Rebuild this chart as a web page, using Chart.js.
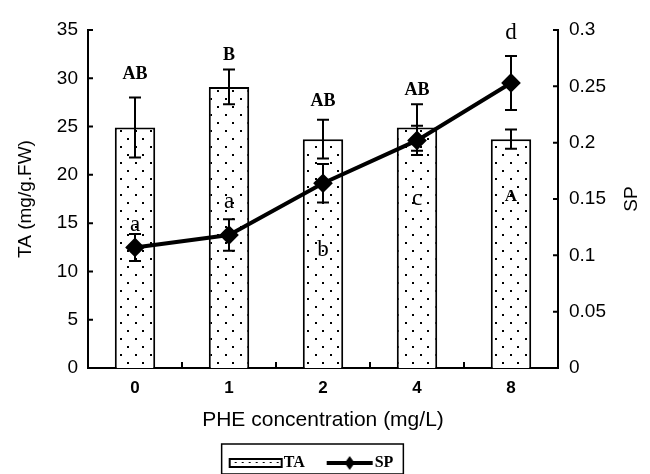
<!DOCTYPE html>
<html>
<head>
<meta charset="utf-8">
<script src="https://cdn.jsdelivr.net/npm/chart.js"></script>
<style>
html, body { margin: 0; padding: 0; background: #fff; }
</style>
</head>
<body>
<canvas id="chartTA" width="650" height="474"></canvas>
<script>
let categories = ['0', '1', '2', '4', '8']
let taValues = [24.9, 29.1, 23.7, 24.9, 23.7]
let taErrors = [3.1, 1.8, 2.0, 2.4, 1.0]
let spValues = [0.107, 0.118, 0.164, 0.202, 0.253]
let spErrors = [0.012, 0.014, 0.017, 0.013, 0.024]
let taTicks = ['0', '5', '10', '15', '20', '25', '30', '35']
let spTicks = ['0', '0.05', '0.1', '0.15', '0.2', '0.25', '0.3']

// significance letters (height given in TA units)
let upperLetters = ['AB', 'B', 'AB', 'AB', 'd']
let upperLetterY = [30.4, 32.4, 27.6, 28.8, 34.7]
let lowerLetters = ['a', 'a', 'b', 'c', 'A']
let lowerLetterY = [14.8, 17.2, 12.2, 17.55, 17.7]

let canvs = document.getElementById('chartTA')
let ctx = canvs.getContext('2d')

// dotted fill for the bars
function makeDots () {
    let c = document.createElement('canvas')
    c.width = 15; c.height = 16
    let g = c.getContext('2d')
    g.fillStyle = '#fff'
    g.fillRect(0, 0, 15, 16)
    g.fillStyle = '#000'
    g.fillRect(0, 2, 2, 2)
    g.fillRect(7, 10, 2, 2)
    return ctx.createPattern(c, 'repeat')
}
let dots = makeDots()

// legend swatches (drawn centred in the legend box)
function taSwatch () {
    let c = document.createElement('canvas')
    c.width = 80; c.height = 14
    let g = c.getContext('2d')
    g.fillStyle = '#fff'
    g.fillRect(24, 3, 52, 8)
    g.fillStyle = '#000'
    for (let i = 29; i < 75; i += 7) g.fillRect(i, 6, 2, 1)
    g.strokeStyle = '#000'; g.lineWidth = 2
    g.strokeRect(24, 3, 52, 8)
    return c
}
function spSwatch () {
    let c = document.createElement('canvas')
    c.width = 80; c.height = 18
    let g = c.getContext('2d')
    g.strokeStyle = '#000'; g.lineWidth = 4
    g.beginPath(); g.moveTo(30, 9); g.lineTo(76, 9); g.stroke()
    g.fillStyle = '#000'
    g.beginPath(); g.moveTo(53, 2); g.lineTo(58, 9); g.lineTo(53, 16); g.lineTo(48, 9); g.closePath(); g.fill()
    return c
}
let swatches = [taSwatch(), spSwatch()]

let extras = {
    id: 'extras',
    afterDatasetsDraw (chart) {
        let c = chart.ctx
        let x = chart.scales.x, y = chart.scales.y, y1 = chart.scales.y1
        c.save()
        c.strokeStyle = '#000'
        c.lineWidth = 2
        function errBar (px, top, bot) {
            c.beginPath()
            c.moveTo(px, top); c.lineTo(px, bot)
            c.moveTo(px - 6, top); c.lineTo(px + 6, top)
            c.moveTo(px - 6, bot); c.lineTo(px + 6, bot)
            c.stroke()
        }
        taValues.forEach(function (v, i) {
            errBar(x.getPixelForValue(i), y.getPixelForValue(v + taErrors[i]), y.getPixelForValue(v - taErrors[i]))
        })
        spValues.forEach(function (v, i) {
            errBar(x.getPixelForValue(i), y1.getPixelForValue(v + spErrors[i]), y1.getPixelForValue(v - spErrors[i]))
        })

        c.fillStyle = '#000'
        c.textAlign = 'center'
        c.textBaseline = 'middle'
        upperLetters.forEach(function (t, i) {
            c.font = t === 'd' ? '23px "Liberation Serif"' : 'bold 18px "Liberation Serif"'
            c.fillText(t, x.getPixelForValue(i), y.getPixelForValue(upperLetterY[i]))
        })
        lowerLetters.forEach(function (t, i) {
            c.font = t === 'A' ? 'bold 17px "Liberation Serif"' : '23px "Liberation Serif"'
            c.fillText(t, x.getPixelForValue(i), y.getPixelForValue(lowerLetterY[i]))
        })
        c.restore()
    },
    afterDraw (chart) {
        let c = chart.ctx
        let x = chart.scales.x, y = chart.scales.y, y1 = chart.scales.y1
        let area = chart.chartArea
        c.save()
        c.strokeStyle = '#000'
        c.lineWidth = 2
        c.beginPath()
        // inside tick marks
        y.ticks.forEach(function (t, i) {
            let py = y.getPixelForTick(i)
            c.moveTo(area.left, py); c.lineTo(area.left + 5, py)
        })
        y1.ticks.forEach(function (t, i) {
            let py = y1.getPixelForTick(i)
            c.moveTo(area.right, py); c.lineTo(area.right - 5, py)
        })
        for (let i = 0; i < categories.length - 1; i++) {
            let px = (x.getPixelForValue(i) + x.getPixelForValue(i + 1)) / 2
            c.moveTo(px, area.bottom); c.lineTo(px, area.bottom - 6)
        }
        c.stroke()

        // right axis title, reading upwards
        c.fillStyle = '#000'
        c.font = '19px "Liberation Sans"'
        c.textAlign = 'center'
        c.textBaseline = 'middle'
        c.translate(632, (area.top + area.bottom) / 2)
        c.rotate(-Math.PI / 2)
        c.fillText('SP', 0, 0)
        c.setTransform(1, 0, 0, 1, 0, 0)

        // box round the legend
        let boxes = chart.legend.legendHitBoxes
        if (boxes && boxes.length) {
            let first = boxes[0], last = boxes[boxes.length - 1]
            let mid = first.top + first.height / 2
            c.lineWidth = 1.5
            c.strokeRect(first.left + 6, mid - 19, last.left + last.width + 10 - first.left - 6, 30)
        }
        c.restore()
    }
}

let chartTA = new Chart(ctx, {
    type: 'bar',
    data: {
        labels: categories,
        datasets: [{
            label: 'TA',
            data: taValues,
            yAxisID: 'y',
            backgroundColor: dots,
            borderColor: '#000',
            borderWidth: 2,
            borderSkipped: 'bottom',
            barPercentage: 0.43,
            categoryPercentage: 1,
            order: 2
        }, {
            type: 'line',
            label: 'SP',
            data: spValues,
            yAxisID: 'y1',
            borderColor: '#000',
            backgroundColor: '#000',
            borderWidth: 4,
            pointStyle: 'rectRot',
            pointRadius: 7,
            pointBackgroundColor: '#000',
            pointBorderColor: '#000',
            fill: false,
            tension: 0,
            order: 1
        }]
    },
    options: {
        responsive: false,
        animation: false,
        devicePixelRatio: 1,
        layout: { padding: { top: 30, left: 0, right: 41, bottom: -7 } },
        plugins: {
            tooltip: { enabled: false },
            legend: {
                display: true,
                position: 'bottom',
                labels: {
                    usePointStyle: true,
                    pointStyleWidth: 60,
                    padding: 2,
                    color: '#000',
                    font: { family: 'Liberation Serif', size: 16, weight: 'bold' },
                    generateLabels: function (chart) {
                        return chart.data.datasets.map(function (ds, i) {
                            return { text: ds.label, pointStyle: swatches[i], datasetIndex: i, fontColor: '#000', lineWidth: 0, strokeStyle: 'transparent', fillStyle: 'transparent' }
                        })
                    }
                }
            }
        },
        scales: {
            x: {
                grid: { display: false, drawTicks: false },
                border: { display: true, color: '#000', width: 2 },
                ticks: { color: '#000', padding: 10, font: { family: 'Liberation Sans', size: 17, weight: 'bold' } },
                title: { display: true, text: 'PHE concentration (mg/L)', color: '#000', padding: { top: 0, bottom: 20 }, font: { family: 'Liberation Sans', size: 21 } },
                afterFit: function (s) { s.height = 85 }
            },
            y: {
                position: 'left',
                min: 0,
                max: 35,
                grid: { display: false, drawTicks: false },
                border: { display: true, color: '#000', width: 2 },
                ticks: {
                    stepSize: 5,
                    color: '#000',
                    padding: 10,
                    font: { family: 'Liberation Sans', size: 19 },
                    callback: function (v, i) { return taTicks[i] }
                },
                title: { display: true, text: 'TA (mg/g.FW)', color: '#000', padding: { top: 14, bottom: 0 }, font: { family: 'Liberation Sans', size: 19 } },
                afterFit: function (s) { s.width = 88 }
            },
            y1: {
                position: 'right',
                min: 0,
                max: 0.3,
                grid: { display: false, drawTicks: false },
                border: { display: true, color: '#000', width: 2 },
                ticks: {
                    stepSize: 0.05,
                    color: '#000',
                    padding: 11,
                    font: { family: 'Liberation Sans', size: 19 },
                    callback: function (v, i) { return spTicks[i] }
                },
                afterFit: function (s) { s.width = 51 }
            }
        }
    },
    plugins: [extras]
})
</script>
</body>
</html>
